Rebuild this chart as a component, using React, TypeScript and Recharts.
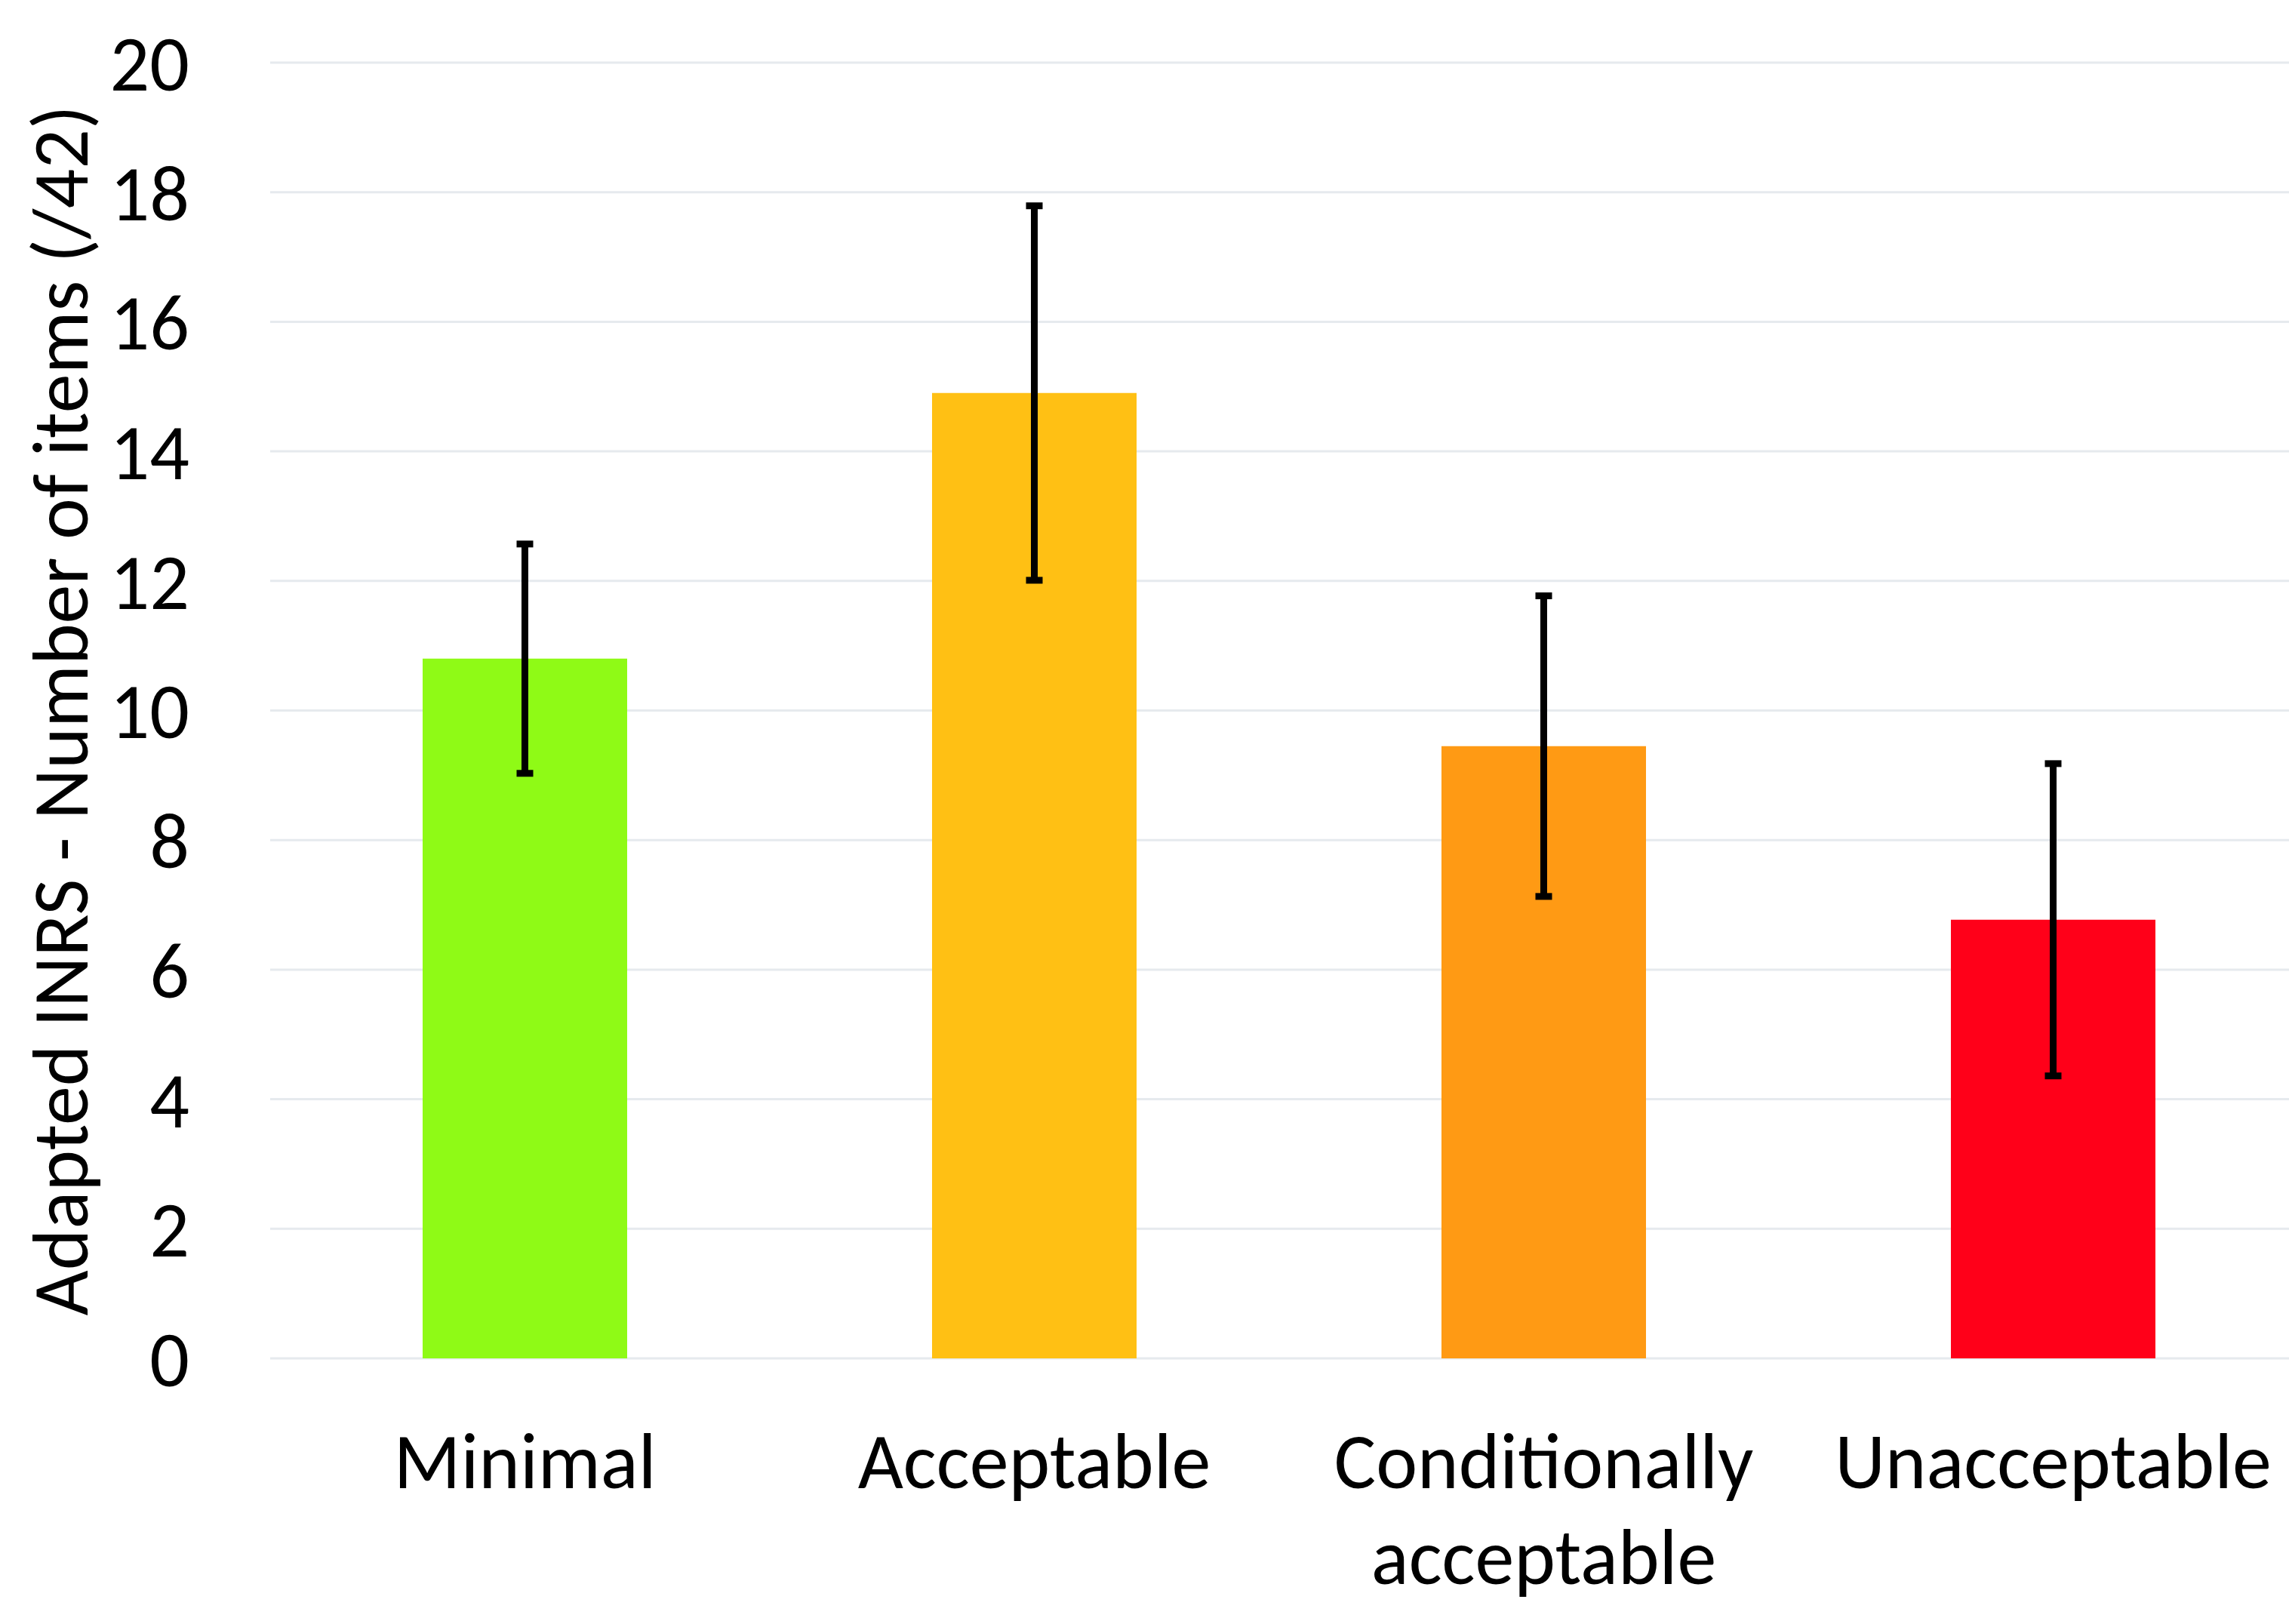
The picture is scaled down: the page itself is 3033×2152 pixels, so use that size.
import React from "react";
import { BarChart, Bar, XAxis, YAxis, CartesianGrid, ErrorBar, Cell } from "recharts";

const categories = ["Minimal", "Acceptable", "Conditionally acceptable", "Unacceptable"];
const means = [10.8, 14.9, 9.45, 6.77];
const errors = [1.77, 2.89, 2.32, 2.41];
const barColors = ["#8FFA16", "#FFC014", "#FF9A14", "#FF0019"];
const yTicks = [0, 2, 4, 6, 8, 10, 12, 14, 16, 18, 20];
const yLabel = "Adapted INRS - Number of items (/42)";

const data = categories.map((c, i) => ({ name: c, value: means[i], err: errors[i] }));

const FONT = "Carlito, Lato, 'Open Sans', sans-serif";

const XTick = (props: any) => {
  const { x, y, payload } = props;
  const words = String(payload.value).split(" ");
  return (
    <g>
      {words.map((w: string, i: number) => (
        <text key={i} x={x} y={y + 172 + i * 127} textAnchor="middle" fontSize={104} fill="#000" fontFamily={FONT}>
          {w}
        </text>
      ))}
    </g>
  );
};

const YLabel = (props: any) => {
  const { viewBox } = props;
  const cx = viewBox.x + 80;
  const cy = viewBox.y + viewBox.height / 2;
  return (
    <text x={cx} y={cy} transform={`rotate(-90 ${cx} ${cy})`} textAnchor="middle" dominantBaseline="central" fontSize={104} fill="#000" fontFamily={FONT}>
      {yLabel}
    </text>
  );
};

export default function App() {
  return (
    <div style={{ position: "absolute", left: 0, top: 0, background: "#fff", overflow: "hidden", width: 3033, height: 2152 }}>
      <BarChart width={3033} height={2152} data={data} margin={{ top: 83, right: -25, bottom: 0, left: 0 }}>
        <CartesianGrid horizontal={true} vertical={false} stroke="#E6EAEE" strokeWidth={3} />
        <XAxis dataKey="name" axisLine={false} tickLine={false} tickSize={0} tickMargin={0} tick={<XTick />} interval={0} height={352} />
        <YAxis
          domain={[0, 20]}
          ticks={yTicks}
          axisLine={false}
          tickLine={false}
          tickSize={0}
          tickMargin={107}
          width={358}
          tick={{ fontSize: 104, fill: "#000", fontFamily: FONT }}
          label={<YLabel />}
        />
        <Bar dataKey="value" barSize={271} isAnimationActive={false}>
          {data.map((d, i) => (
            <Cell key={i} fill={barColors[i]} />
          ))}
          <ErrorBar dataKey="err" direction="y" width={11} strokeWidth={9} stroke="#000" isAnimationActive={false} />
        </Bar>
      </BarChart>
    </div>
  );
}
